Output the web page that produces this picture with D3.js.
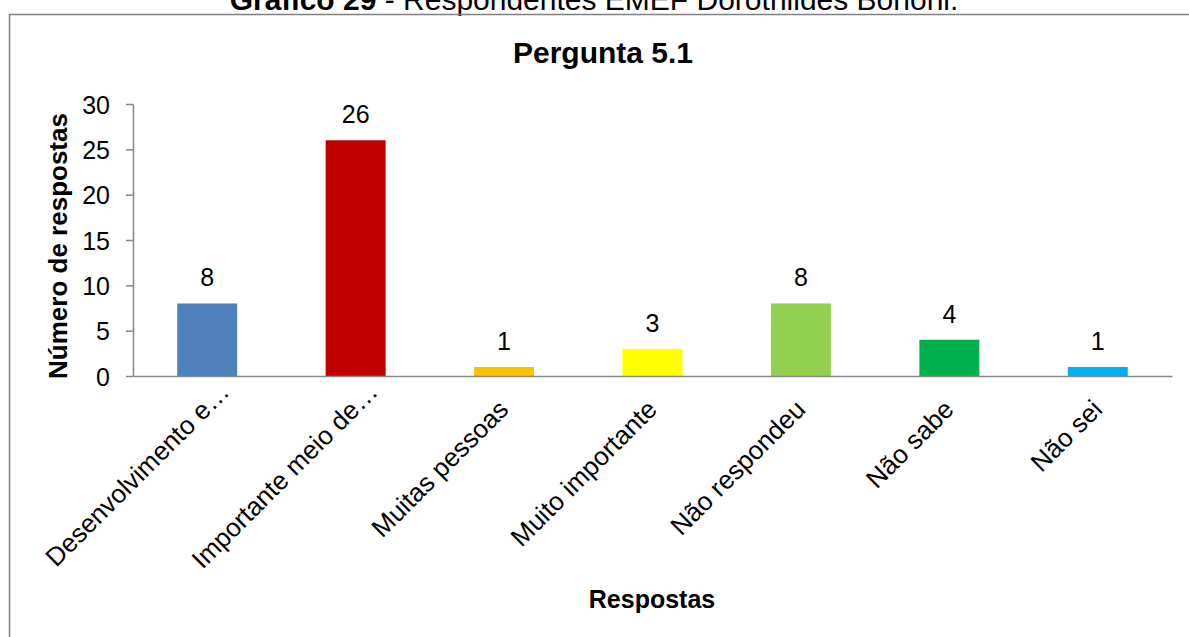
<!DOCTYPE html>
<html><head><meta charset="utf-8">
<script src="https://cdn.jsdelivr.net/npm/d3@7"></script>
<style>body{margin:0;background:#fff;}svg{display:block;font-family:"Liberation Sans",Arial,sans-serif;}</style>
</head><body>
<svg id="c" width="1189" height="637"></svg>
<script>
const categories = ["Desenvolvimento e…","Importante meio de…","Muitas pessoas","Muito importante","Não respondeu","Não sabe","Não sei"];
const values = [8,26,1,3,8,4,1];
const colors = ["#4F81BD","#C00000","#FFC000","#FFFF00","#92D050","#00B050","#00B0F0"];
const yTicks = [0,5,10,15,20,25,30];

const FONT = "Liberation Sans, Arial, sans-serif";
const svg = d3.select("#c");
// caption (cut off at the top edge, as in the reference)
const cap = svg.append("text").attr("x",594).attr("y",10).attr("text-anchor","middle").attr("font-size",30).attr("fill","#000");
cap.append("tspan").attr("font-weight","bold").text("Gráfico 29");
cap.append("tspan").text(" - Respondentes EMEF Dorothildes Bononi.");

svg.append("rect").attr("x",9.5).attr("y",14.5).attr("width",1200).attr("height",640).attr("fill","none").attr("stroke","#808080").attr("stroke-width",1.5);

svg.append("text").attr("x",603).attr("y",63).attr("text-anchor","middle").attr("font-size",30).attr("font-weight","bold").text("Pergunta 5.1");

const x = d3.scaleBand().domain(categories).range([133,1172]).paddingInner(0.596).paddingOuter(0.298);
const y = d3.scaleLinear().domain([0,30]).range([376,104]);

const g = svg.append("g");
g.selectAll("rect.bar").data(values).join("rect").attr("class","bar")
 .attr("x",(d,i)=>x(categories[i])).attr("width",x.bandwidth())
 .attr("y",d=>y(d)).attr("height",d=>y(0)-y(d)).attr("fill",(d,i)=>colors[i]);

g.selectAll("text.val").data(values).join("text").attr("class","val")
 .attr("x",(d,i)=>x(categories[i])+x.bandwidth()/2).attr("y",d=>y(d)-17)
 .attr("text-anchor","middle").attr("font-size",25).text(d=>d);

// y axis
const ya = svg.append("g").attr("transform","translate(133,0)").call(d3.axisLeft(y).tickValues(yTicks).tickSize(7).tickSizeOuter(0));
ya.select(".domain").attr("stroke","#868686").attr("stroke-width",1.5);
ya.selectAll(".tick line").attr("stroke","#868686").attr("stroke-width",1.5);
ya.selectAll(".tick text").attr("font-size",25).attr("font-family",FONT).attr("fill","#000").attr("x",-23).attr("dy","0.36em");

// x axis
const xa = svg.append("g").attr("transform","translate(0,376)").call(d3.axisBottom(x).tickSize(0).tickSizeOuter(0));
xa.select(".domain").attr("stroke","#868686").attr("stroke-width",1.5);
xa.selectAll(".tick text").attr("font-size",26).attr("font-family",FONT).attr("fill","#000")
 .attr("text-anchor","end").attr("dy",0).attr("y",0)
 .attr("dx",d=>d.endsWith("…") ? 25 : 0)
 .attr("transform","translate(6,35) rotate(-45)");

svg.append("text").attr("transform","translate(67,246) rotate(-90)").attr("text-anchor","middle").attr("font-size",26).attr("font-weight","bold").text("Número de respostas");
svg.append("text").attr("x",652).attr("y",608).attr("text-anchor","middle").attr("font-size",25).attr("font-weight","bold").text("Respostas");
</script>
</body></html>
